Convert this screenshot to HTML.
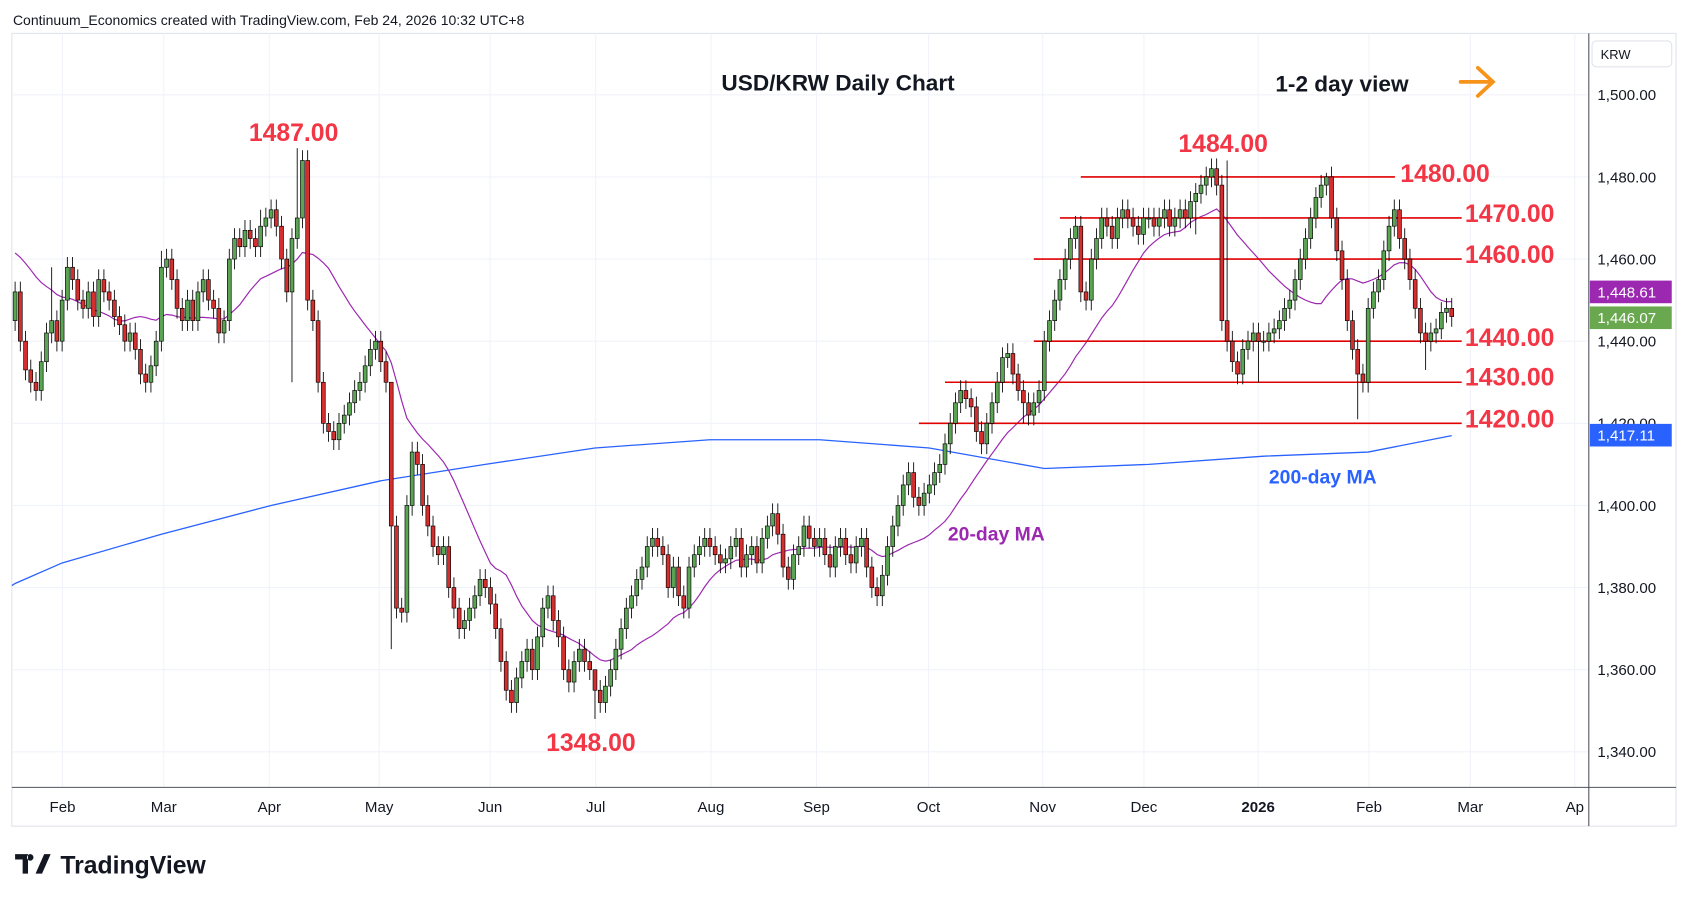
<!DOCTYPE html>
<html><head><meta charset="utf-8">
<style>
html,body{margin:0;padding:0;background:#fff;}
svg{display:block;font-family:"Liberation Sans",sans-serif;}
</style></head>
<body>
<svg id="chart" width="1689" height="902" viewBox="0 0 1568 837.4" xmlns="http://www.w3.org/2000/svg">
<rect x="0" y="0" width="1568" height="837.4" fill="#fff"/>
<text x="12" y="23" font-size="13" fill="#131722">Continuum_Economics created with TradingView.com, Feb 24, 2026 10:32 UTC+8</text>
<rect x="11" y="31" width="1545" height="736" fill="none" stroke="#e0e3eb" stroke-width="1"/>
<g id="grid"></g>
<g id="ma200"></g>
<g id="ma20"></g>
<g id="levels"></g>
<g id="candles"></g>
<line x1="1475" y1="31" x2="1475" y2="767" stroke="#50535e" stroke-width="1"/>
<line x1="11" y1="731" x2="1556" y2="731" stroke="#50535e" stroke-width="1"/>
<g id="yaxis"></g>
<g id="xaxis"></g>
<rect x="1478" y="38" width="74" height="24" rx="4" fill="#fff" stroke="#e0e3eb"/>
<text x="1486" y="55" font-size="12" fill="#131722">KRW</text>
<text x="778" y="84" font-size="21" font-weight="bold" text-anchor="middle" fill="#131722">USD/KRW Daily Chart</text>
<text x="1184" y="85" font-size="21" font-weight="bold" fill="#131722">1-2 day view</text>
<g stroke="#f7931a" stroke-width="3.5" fill="none" stroke-linecap="round"><line x1="1356" y1="76" x2="1385" y2="76"/><polyline points="1372,63 1386,76 1372,89"/></g>
<text x="880" y="502" font-size="18" font-weight="bold" fill="#9c27b0">20-day MA</text>
<text x="1178" y="449" font-size="18" font-weight="bold" fill="#2962ff">200-day MA</text>
<g id="annot"></g>
<g id="badges"></g>
<g>
<path d="M14 793h12v18h-5v-13h-7z M28 793a3 3 0 1 0 0.1 0z" fill="#131722"/>
<path d="M33 811l8-18h6l-8 18z" fill="#131722"/>
<text x="56" y="811" font-size="23" font-weight="bold" fill="#131722">TradingView</text>
</g>
</svg>
<script>
const NS='http://www.w3.org/2000/svg';
// ---- data ----
const closes=[1452,1440,1433,1430,1428,1435,1442,1445,1440,
1450,1458,1455,1450,1448,1452,1446,1455,1452,1450,1446,1444,1440,1442,1438,1432,1430,1434,1440,
1458,1460,1455,1448,1445,1450,1445,1452,1455,1450,1448,1442,1445,1460,1465,1463,1467,1465,1463,1468,1470,
1472,1468,1460,1452,1465,1470,1484,1450,1445,1430,1420,1418,1416,1420,1422,1425,1428,1430,1434,1438,1440,
1435,1430,1395,1375,1374,1400,1413,1410,1400,1395,1390,1388,1390,1380,1375,1370,1372,1375,1378,1382,
1380,1376,1370,1362,1355,1352,1358,1362,1365,1360,1368,1375,1378,1372,1368,1360,1357,1362,1365,1362,1360,
1355,1352,1356,1360,1365,1370,1375,1378,1382,1385,1390,1392,1390,1388,1380,1385,1378,1375,1385,1388,1390,1392,
1390,1388,1386,1387,1390,1392,1385,1388,1390,1386,1392,1395,1398,1393,1385,1382,1388,1390,1395,1392,1390,
1392,1388,1385,1390,1392,1388,1386,1390,1392,1385,1380,1378,1383,1390,1395,1400,1405,1408,1402,1400,1403,
1405,1408,1410,1415,1420,1425,1428,1426,1424,1418,1415,1420,1425,1430,1436,1437,1432,1428,1425,1422,1425,1428,
1440,1445,1450,1455,1460,1465,1468,1452,1450,1460,1465,1470,1468,1465,1470,1472,1470,1468,1466,1470,
1470,1468,1470,1472,1468,1470,1472,1470,1474,1476,1478,1480,1482,1478,1445,1440,1435,1432,1438,1440,1442,1440,
1440,1442,1443,1445,1448,1450,1455,1460,1465,1470,1475,1478,1480,1470,1462,1455,1445,1438,1432,1430,
1448,1452,1455,1462,1468,1472,1465,1460,1455,1448,1442,1440,1442,1443,1447,1448,1446];
const highIdx=[54,111,232,251,7,28,47,72];
const highVal=[1487,1357,1484,1481,1458,1462,1472,1428];
const lowIdx=[111,72,257,53,226,238,270,193];
const lowVal=[1348,1365,1421,1430,1466,1430,1433,1420];
const ma200Idx=[0,9,28,49,70,90,111,133,154,175,197,217,239,259,275];
const ma200Val=[1381,1386,1393,1400,1406,1410,1414,1416,1416,1414,1409,1410,1412,1413,1417];
const levels=[1480,1470,1460,1440,1430,1420];
const levelStartIdx=[204,200,195,195,178,173];
const yTicks=[1500,1480,1460,1440,1420,1400,1380,1360,1340];
const monthLabels=['Feb','Mar','Apr','May','Jun','Jul','Aug','Sep','Oct','Nov','Dec','2026','Feb','Mar','Ap'];
const monthX=[58,152,250,352,455,553,660,758,862,968,1062,1168,1271,1365,1462];
// ---- scales ----
const X=i=>14+i*4.85;
const Y=p=>88+(1500-p)*3.8125;
function el(tag,attrs,parent){const e=document.createElementNS(NS,tag);for(const k in attrs)e.setAttribute(k,attrs[k]);parent.appendChild(e);return e;}
const grid=document.getElementById('grid');
yTicks.forEach(t=>{const l=el('line',{x1:11,x2:1475,y1:Y(t),y2:Y(t),stroke:'#f0f3fa'},grid);

});
monthX.forEach(x=>{const l=el('line',{x1:x,x2:x,y1:31,y2:731,stroke:'#f0f3fa'},grid);

});
const ya=document.getElementById('yaxis');
yTicks.forEach(t=>{const tx=el('text',{x:1483,y:Y(t)+5,'font-size':14,fill:'#131722'},ya);tx.textContent=t.toLocaleString('en-US',{minimumFractionDigits:2});

});
const xa=document.getElementById('xaxis');
monthLabels.forEach((m,k)=>{const tx=el('text',{x:monthX[k],y:754,'font-size':14,fill:'#131722','text-anchor':'middle','font-weight':m==='2026'?'bold':'normal'},xa);tx.textContent=m;

});
// MA200
let d='';ma200Idx.forEach((i,k)=>{d+=(k?'L':'M')+X(i)+' '+Y(ma200Val[k]);});
d='M11 '+Y(1380.5)+d.replace(/^M/,'L');
const m2=el('path',{d:d,fill:'none',stroke:'#2962ff','stroke-width':1.2},document.getElementById('ma200'));


// MA20
d='';closes.forEach((c,i)=>{const s=Math.max(0,i-19);const w=closes.slice(s,i+1);let v=w.reduce((a,b)=>a+b,0)/w.length;if(i<19)v=(v*w.length+1462*(20-w.length))/20;d+=(i?'L':'M')+X(i)+' '+Y(v);});
const m1=el('path',{d:d,fill:'none',stroke:'#9c27b0','stroke-width':1.1},document.getElementById('ma20'));


// levels
const lv=document.getElementById('levels');
levels.forEach((p,k)=>{const l=el('line',{x1:X(levelStartIdx[k]),x2:1357,y1:Y(p),y2:Y(p),stroke:'#e00000','stroke-width':1.5},lv);
if(p===1480)l.setAttribute('x2',1295);

});
// candles
const cg=document.getElementById('candles');
closes.forEach((c,i)=>{const o=i?closes[i-1]:1445;let hi=Math.max(o,c)+2.5,lo=Math.min(o,c)-2.5;
const hk=highIdx.indexOf(i);if(hk>=0)hi=highVal[hk];const lk=lowIdx.indexOf(i);if(lk>=0)lo=lowVal[lk];
const x=X(i);const up=c>=o;
const w=el('line',{x1:x,x2:x,y1:Y(hi),y2:Y(lo),stroke:'#000','stroke-width':0.8},cg);


const top=Y(Math.max(o,c)),bh=Math.max(1,Y(Math.min(o,c))-top);
const b=el('rect',{x:x-1.8,y:top,width:3.6,height:bh,fill:up?'#5aa454':'#d32f2f',stroke:'#000','stroke-width':0.6},cg);

});
// annotations
const an=document.getElementById('annot');
[[1480,1300,169],[1470,1360,206],[1460,1360,244],[1440,1360,321],[1430,1360,358],[1420,1360,397],[1487,231,131],[1484,1094,141],[1348,507,697]].forEach(a=>{
const t=el('text',{x:a[1],y:a[2],'font-size':23,'font-weight':'bold',fill:'#f23645'},an);t.textContent=a[0].toFixed(2);

});
// badges
const bg=document.getElementById('badges');
[['1,448.61','#9c27b0',1448.61],['1,446.07','#6aa84f',1446.07],['1,417.11','#2962ff',1417.11]].forEach((b,k)=>{
let yy=Y(b[2]);if(k===0)yy=271;if(k===1)yy=295;
const r=el('rect',{x:1476,y:yy-10.5,width:76,height:21,fill:b[1]},bg);


const t=el('text',{x:1483,y:yy+5,'font-size':14,fill:'#fff'},bg);t.textContent=b[0];

});
</script>
</body></html>
